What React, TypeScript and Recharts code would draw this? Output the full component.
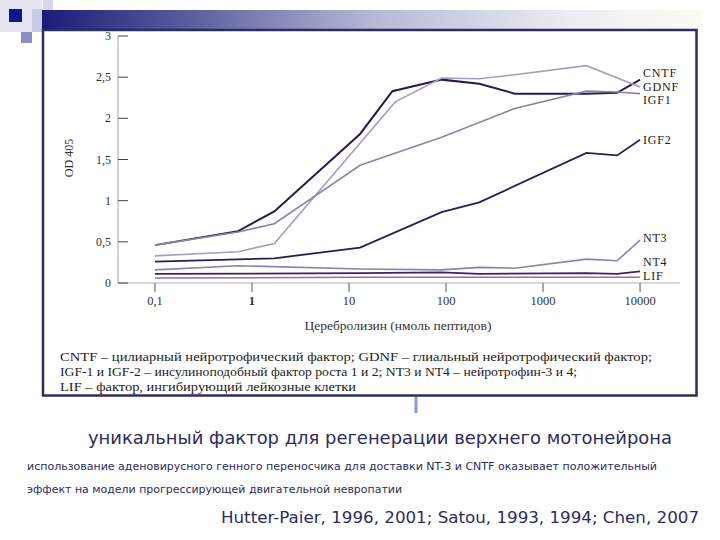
import React from "react";
import { LineChart, Line, XAxis, YAxis } from "recharts";

// concentration (nmol peptides) ticks, log axis
const xTicks = [0.1, 1, 10, 100, 1000, 10000];
const xTickLabels = ["0,1", "1", "10", "100", "1000", "10000"];
const yTicks = [0, 0.5, 1, 1.5, 2, 2.5, 3];
const yTickLabels = ["0", "0,5", "1", "1,5", "2", "2,5", "3"];

// OD 405 per factor
const cntfX = [0.1, 0.72, 1.7, 13, 28, 90, 220, 510, 2800, 5800, 10000];
const cntfY = [0.46, 0.63, 0.87, 1.81, 2.33, 2.47, 2.42, 2.3, 2.3, 2.31, 2.47];

const gdnfX = [0.1, 0.72, 1.7, 30, 90, 220, 510, 2800, 10000];
const gdnfY = [0.33, 0.38, 0.48, 2.2, 2.49, 2.48, 2.53, 2.64, 2.38];

const igf1X = [0.1, 0.72, 1.7, 13, 90, 510, 2800, 5800, 10000];
const igf1Y = [0.46, 0.62, 0.72, 1.43, 1.77, 2.12, 2.33, 2.32, 2.3];

const igf2X = [0.1, 1.7, 13, 90, 220, 2800, 5800, 10000];
const igf2Y = [0.26, 0.3, 0.43, 0.86, 0.98, 1.58, 1.55, 1.74];

const nt3X = [0.1, 0.72, 13, 90, 220, 510, 2800, 5800, 10000];
const nt3Y = [0.16, 0.21, 0.17, 0.16, 0.19, 0.18, 0.29, 0.27, 0.52];

const nt4X = [0.1, 13, 90, 220, 2800, 5800, 10000];
const nt4Y = [0.11, 0.12, 0.13, 0.11, 0.12, 0.11, 0.14];

const lifX = [0.1, 13, 10000];
const lifY = [0.06, 0.07, 0.07];

const toPoints = (xs: number[], ys: number[]) => xs.map((x, i) => ({ x, y: ys[i] }));

const series = [
  { name: "CNTF", data: toPoints(cntfX, cntfY), color: "#2a1850", width: 2 },
  { name: "GDNF", data: toPoints(gdnfX, gdnfY), color: "#a79cc6", width: 1.6 },
  { name: "IGF1", data: toPoints(igf1X, igf1Y), color: "#8c84a8", width: 1.6 },
  { name: "IGF2", data: toPoints(igf2X, igf2Y), color: "#2e1a58", width: 1.8 },
  { name: "NT3", data: toPoints(nt3X, nt3Y), color: "#8a82b0", width: 1.6 },
  { name: "NT4", data: toPoints(nt4X, nt4Y), color: "#3a2468", width: 1.8 },
  { name: "LIF", data: toPoints(lifX, lifY), color: "#8a72b8", width: 1.5 },
];

const serif = '"Liberation Serif", "Times New Roman", "DejaVu Serif", serif';
const handFont = '"DejaVu Sans", "Noto Sans", sans-serif';

function XTick({ x, y, payload }: any) {
  const i = xTicks.findIndex((t) => Math.abs(t - payload.value) < t * 0.01);
  return (
    <g>
      <line x1={x} x2={x} y1={y} y2={y + 9} stroke="#555" strokeWidth={1} />
      <text
        x={x}
        y={y + 22}
        textAnchor="middle"
        fontFamily={serif}
        fontSize={12.5}
        fontWeight={payload.value === 1 ? 700 : 400}
        fill="#333"
      >
        {xTickLabels[i]}
      </text>
    </g>
  );
}

function YTick({ x, y, payload }: any) {
  const i = yTicks.indexOf(payload.value);
  return (
    <g>
      <line x1={x} x2={x + 10} y1={y} y2={y} stroke="#444" strokeWidth={1} />
      <text x={x - 7} y={y + 4} textAnchor="end" fontFamily={serif} fontSize={12} fill="#333">
        {yTickLabels[i]}
      </text>
    </g>
  );
}

const endLabels = [
  { text: "CNTF", y: 77 },
  { text: "GDNF", y: 90.5 },
  { text: "IGF1", y: 104 },
  { text: "IGF2", y: 144 },
  { text: "NT3", y: 242 },
  { text: "NT4", y: 266 },
  { text: "LIF", y: 280 },
];

export default function App() {
  return (
    <div style={{ position: "absolute", left: 0, top: 0, width: 720, height: 540, background: "#fff", overflow: "hidden" }}>
      <svg width={720} height={540} style={{ position: "absolute", left: 0, top: 0 }}>
        <defs>
          <linearGradient id="barGrad" x1="0" y1="0" x2="1" y2="0">
            <stop offset="0" stopColor="#1c1c78" />
            <stop offset="0.22" stopColor="#5a5c9c" />
            <stop offset="0.5" stopColor="#b6b8d6" />
            <stop offset="0.8" stopColor="#ecedf2" />
            <stop offset="1" stopColor="#fbfbf2" />
          </linearGradient>
        </defs>
        {/* slide decoration */}
        <rect x={0} y={0} width={42} height={32} fill="#e4e6f2" />
        <rect x={32} y={9} width={11} height={23} fill="#c8cae6" />
        <rect x={43} y={0} width={10} height={10} fill="#d6d8ec" />
        <rect x={9} y={9} width={13} height={13} fill="#14148c" />
        <rect x={21} y={32} width={11} height={11} fill="#8c8cc8" />
        <rect x={42} y={10} width={660} height={20} fill="url(#barGrad)" />
        {/* frame */}
        <rect x={43} y={30} width={653.5} height={365.5} fill="none" stroke="#2e2e5e" strokeWidth={2.5} />
        <line x1={416} x2={416} y1={397} y2={413} stroke="#8898e0" strokeWidth={3} />

        <text x={0} y={0} transform="translate(73,158) rotate(-90)" textAnchor="middle" fontFamily={serif} fontSize={12} fill="#333">
          OD 405
        </text>
        {endLabels.map((l) => (
          <text key={l.text} x={643} y={l.y} fontFamily={serif} fontSize={12} letterSpacing={0.8} fill="#222">
            {l.text}
          </text>
        ))}
        <text x={398} y={330} textAnchor="middle" fontFamily={serif} fontSize={13.5} fill="#333">
          Церебролизин (нмоль пептидов)
        </text>
        <g fontFamily={serif} fontSize={13} fill="#222">
          <text x={60} y={361} textLength={592} lengthAdjust="spacingAndGlyphs">
            CNTF – цилиарный нейротрофический фактор; GDNF – глиальный нейротрофический фактор;
          </text>
          <text x={60} y={376} textLength={517} lengthAdjust="spacingAndGlyphs">
            IGF-1 и IGF-2 – инсулиноподобный фактор роста 1 и 2; NT3 и NT4 – нейротрофин-3 и 4;
          </text>
          <text x={60} y={391} textLength={296} lengthAdjust="spacingAndGlyphs">
            LIF – фактор, ингибирующий лейкозные клетки
          </text>
        </g>
        <g fontFamily={handFont} fill="#2c2c5e">
          <text x={88} y={444} fontSize={18} textLength={584} lengthAdjust="spacingAndGlyphs">
            уникальный фактор для регенерации верхнего мотонейрона
          </text>
          <text x={27} y={470} fontSize={11} textLength={630} lengthAdjust="spacingAndGlyphs">
            использование аденовирусного генного переносчика для доставки NT-3 и CNTF оказывает положительный
          </text>
          <text x={27} y={493} fontSize={11} textLength={375} lengthAdjust="spacingAndGlyphs">
            эффект  на модели прогрессирующей двигательной невропатии
          </text>
          <text x={221} y={523} fontSize={16} textLength={478} lengthAdjust="spacingAndGlyphs">
            Hutter-Paier, 1996, 2001; Satou, 1993, 1994; Chen, 2007
          </text>
        </g>
      </svg>
      <div style={{ position: "absolute", left: 0, top: 0 }}>
        <LineChart width={720} height={540} margin={{ top: 36, right: 40, left: 58, bottom: 227 }}>
          <XAxis
            dataKey="x"
            type="number"
            scale="log"
            domain={[0.0416, 25800]}
            allowDataOverflow
            ticks={xTicks}
            height={30}
            tickSize={0}
            tickMargin={0}
            tickLine={false}
            axisLine={{ stroke: "#b4b4b4", strokeWidth: 1.2 }}
            tick={<XTick />}
          />
          <YAxis
            type="number"
            domain={[0, 3]}
            ticks={yTicks}
            width={60}
            tickSize={0}
            tickMargin={0}
            tickLine={false}
            axisLine={{ stroke: "#b4b4b4", strokeWidth: 1.2 }}
            tick={<YTick />}
          />
          {series.map((s) => (
            <Line
              key={s.name}
              data={s.data}
              dataKey="y"
              type="linear"
              stroke={s.color}
              strokeWidth={s.width}
              dot={false}
              isAnimationActive={false}
            />
          ))}
        </LineChart>
      </div>
    </div>
  );
}
